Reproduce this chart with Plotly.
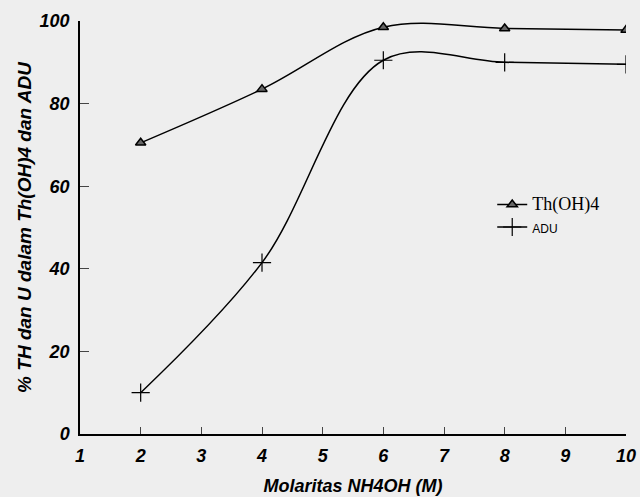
import plotly.graph_objects as go

molarity = [2, 4, 6, 8, 10]
th_oh4 = [70.5, 83.5, 98.5, 98.2, 97.8]
adu = [10, 41.5, 90.5, 90, 89.5]
x_ticks = [1, 2, 3, 4, 5, 6, 7, 8, 9, 10]
y_ticks = [0, 20, 40, 60, 80, 100]

bold_it = dict(family="Liberation Sans", color="black", weight="bold", style="italic")

fig = go.Figure()
fig.add_trace(go.Scatter(
    x=molarity, y=th_oh4, mode="lines+markers",
    name='<span style="font-family:Liberation Serif;font-size:18px">Th(OH)4</span>',
    line=dict(color="black", width=1.5, shape="spline", smoothing=1.0),
    marker=dict(symbol="triangle-up", size=9, color="#666", line=dict(color="black", width=1.5)),
))
fig.add_trace(go.Scatter(
    x=molarity, y=adu, mode="lines+markers",
    name='<span style="font-family:Liberation Sans;font-size:12px">ADU</span>',
    line=dict(color="black", width=1.5, shape="spline", smoothing=1.0),
    marker=dict(symbol="cross-thin", size=13, color="black", line=dict(color="black", width=1.2)),
))

fig.update_layout(
    width=640, height=497,
    margin=dict(l=80, r=14, t=21, b=63),
    paper_bgcolor="#eeeeee", plot_bgcolor="#eeeeee",
    showlegend=True,
    legend=dict(x=0.755, y=0.595, xanchor="left", yanchor="top",
                bgcolor="rgba(0,0,0,0)", font=dict(color="black", size=15),
                itemwidth=30),
    xaxis=dict(range=[1, 10], tickvals=x_ticks, ticks="inside", ticklen=7, tickwidth=1.2,
               showline=True, linecolor="black", linewidth=1.5, showgrid=False, zeroline=False,
               tickfont=dict(size=18, **bold_it), ticklabelstandoff=5, automargin=False,
               title=dict(text="Molaritas NH4OH (M)", font=dict(size=18, **bold_it), standoff=14)),
    yaxis=dict(range=[0, 100], tickvals=y_ticks, ticks="inside", ticklen=9, tickwidth=1.2,
               showline=True, linecolor="black", linewidth=1.5, showgrid=False, zeroline=False,
               tickfont=dict(size=18, **bold_it), ticklabelstandoff=5, automargin=False,
               title=dict(text="% TH dan U dalam Th(OH)4 dan ADU", font=dict(size=19, **bold_it), standoff=3)),
)
fig.write_html("out.html")
